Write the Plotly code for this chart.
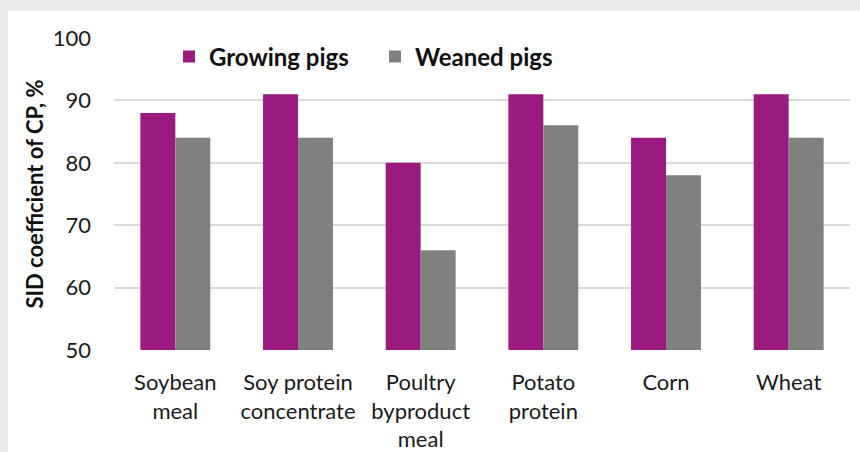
import plotly.graph_objects as go

categories = ["Soybean<br>meal", "Soy protein<br>concentrate", "Poultry<br>byproduct<br>meal",
              "Potato<br>protein", "Corn", "Wheat"]
growing = [88, 91, 80, 91, 84, 91]
weaned = [84, 84, 66, 86, 78, 84]
series_names = ["Growing pigs", "Weaned pigs"]
colors = ["#9B1A80", "#808080"]
yticks = [50, 60, 70, 80, 90, 100]

FONT = "Lato, 'Open Sans', sans-serif"

fig = go.Figure()
fig.add_trace(go.Bar(x=categories, y=growing, name=series_names[0], marker_color=colors[0], marker_line_width=0))
fig.add_trace(go.Bar(x=categories, y=weaned, name=series_names[1], marker_color=colors[1], marker_line_width=0))

W, H = 860, 452
l, r, t, b = 114, 10, 38, 102
pw, ph = W - l - r, H - t - b

def px_x(px):
    return (px - l) / pw

def px_y(py):
    return (H - b - py) / ph

fig.add_shape(type="rect", xref="paper", yref="paper", layer="below",
              x0=px_x(8), x1=px_x(W + 5), y0=px_y(H + 5), y1=px_y(11),
              fillcolor="white", line_width=0)

fig.update_layout(
    width=W, height=H,
    margin=dict(l=l, r=r, t=t, b=b),
    paper_bgcolor="#EBEBEA",
    plot_bgcolor="rgba(0,0,0,0)",
    barmode="group",
    bargap=0.43,
    bargroupgap=0,
    font=dict(family=FONT, size=22, color="#1a1a1a"),
    showlegend=True,
    legend=dict(orientation="h", x=px_x(169), y=px_y(57), xanchor="left", yanchor="middle",
                bgcolor="rgba(0,0,0,0)", font=dict(size=24, color="#111"),
                itemwidth=30, tracegroupgap=0, entrywidth=161, entrywidthmode="pixels"),
)
fig.update_xaxes(showgrid=False, showline=False, zeroline=False, ticks="", automargin=False,
                 ticklabelstandoff=17, tickfont=dict(size=22, color="#1a1a1a"))
fig.update_yaxes(range=[50, 100], tickvals=yticks, showgrid=True, gridcolor="#D9D9D9", gridwidth=1.5,
                 zeroline=False, showline=False, ticks="", ticklabelstandoff=22, automargin=False,
                 tickfont=dict(size=22, color="#1a1a1a"),
                 title=dict(text="<b>SID coefficient of CP, %</b>", font=dict(size=22, color="#111"), standoff=3))

for tr in fig.data:
    tr.name = "<b>" + tr.name + "</b>"

fig.write_html("out.html")
